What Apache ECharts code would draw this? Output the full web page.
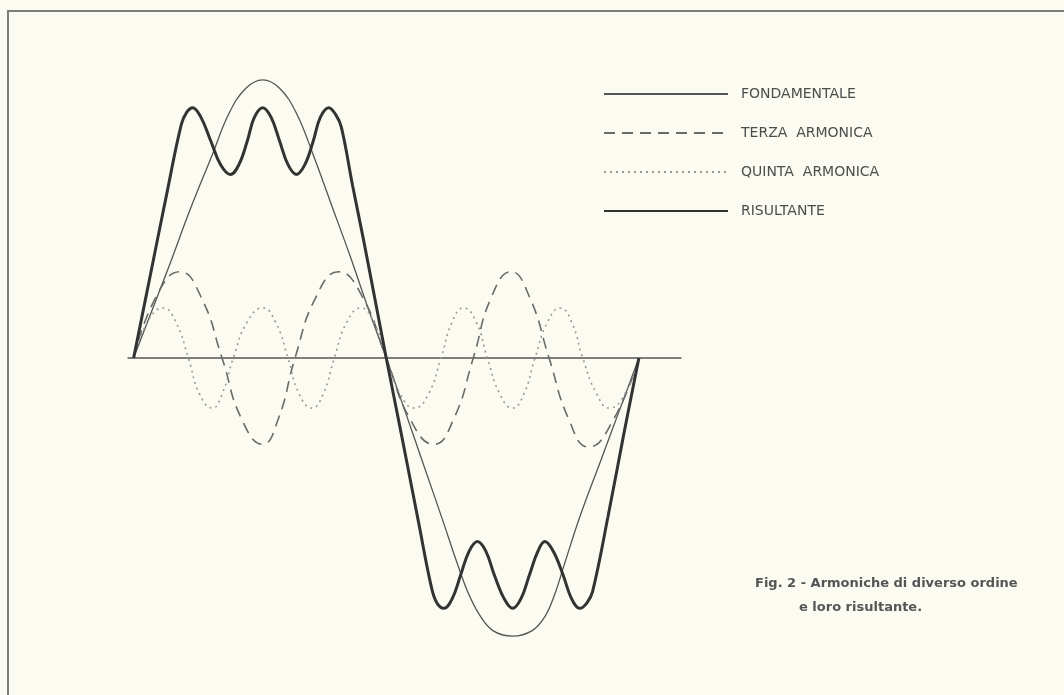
<!DOCTYPE html>
<html>
<head>
<meta charset="utf-8">
<script src="https://cdn.jsdelivr.net/npm/echarts@6/dist/echarts.min.js"></script>
<style>
  html, body { margin:0; padding:0; background:#fcfbf1; }
  #chart { width:1064px; height:695px; }
</style>
</head>
<body>
<div id="chart"></div>
<script>
// phase in degrees, amplitude in % of the fundamental peak
const fundX  = [0, 13, 26, 40, 56, 68, 80, 92, 104, 116, 128, 141, 154, 167, 180, 194, 207, 220, 230, 238, 246, 256, 270, 284, 293, 300, 307, 318, 332, 346, 360];
const fundY  = [0, 17, 34, 53, 73, 88, 97, 100, 97, 88, 73, 55, 37, 18, 0, -20, -39, -58, -73, -84, -92, -98, -100, -98, -93, -85, -74, -57, -38, -19, 0];

const thirdX = [0, 16, 33, 48, 63, 77, 92, 103, 115, 130, 146, 163, 180, 197, 214, 228, 242, 255, 269, 282, 296, 310, 324, 342, 360];
const thirdY = [0, 22, 31, 22, 0, -22, -31, -22, 0, 22, 31, 22, 0, -22, -31, -22, 0, 22, 31, 22, 0, -22, -32, -22, 0];

const fifthX = [0, 10, 21, 30, 39, 47, 56, 63, 71, 81, 92, 101, 110, 118, 127, 135, 143, 152, 162, 171, 180, 190, 200, 210, 219, 227, 235, 244, 252, 261, 270, 278, 286, 295, 304, 312, 320, 330, 339, 350, 360];
const fifthY = [0, 13, 18, 13, 0, -13, -18, -13, 0, 13, 18, 13, 0, -13, -18, -13, 0, 13, 18, 13, 0, -13, -18, -13, 0, 13, 18, 13, 0, -13, -18, -13, 0, 13, 18, 13, 0, -13, -18, -13, 0];

const resX   = [0, 12, 24, 34, 38, 42, 48, 55, 62, 69, 75, 81, 86, 92, 98, 104, 110, 116, 122, 128, 133, 139, 144, 148, 156, 164, 172, 180,
                191, 203, 212, 216, 221, 227, 233, 239, 245, 251, 257, 264, 270, 276, 282, 288, 293, 299, 306, 312, 318, 323, 327, 338, 349, 360];
const resY   = [0, 30, 60, 84, 88.5, 90, 86.5, 78, 69.5, 66, 69.5, 78, 86.5, 90, 86.5, 78, 69.5, 66, 69.5, 78, 86.5, 90, 87.5, 83, 62, 42, 21, 0,
                -28, -59, -82, -88, -90, -86.5, -78, -69.5, -66, -69.5, -78, -86.5, -90, -86.5, -78, -69.5, -66, -69.5, -78, -86.5, -90, -88, -84, -57, -28, 0];

const names = ['FONDAMENTALE', 'TERZA  ARMONICA', 'QUINTA  ARMONICA', 'RISULTANTE'];

const pairs = (xs, ys) => xs.map((x, i) => [x, ys[i]]);

const chart = echarts.init(document.getElementById('chart'));

chart.setOption({
    backgroundColor: '#fcfbf1',
    animation: false,
    grid: { left:128, right:383, top:52, bottom:31 },
    xAxis: {
        type:'value', min:-4, max:390,
        axisLine: { show:true, onZero:true, lineStyle:{ color:'#555', width:1.5 } },
        axisTick: { show:false }, axisLabel: { show:false }, splitLine: { show:false }
    },
    yAxis: { type:'value', min:-110, max:110, show:false },
    legend: {
        orient:'vertical', left:603, top:87, padding:0,
        itemWidth:124, itemHeight:14, itemGap:25,
        itemStyle: { opacity:0 },
        data: names,
        textStyle: { color:'#4d4d4d', fontSize:14, fontFamily:'DejaVu Sans', padding:[0,0,0,8] }
    },
    title: [
        { text:'Fig. 2 - Armoniche di diverso ordine', left:755, top:577, padding:0,
          textStyle:{ color:'#555', fontSize:13, fontWeight:'bold', fontFamily:'DejaVu Sans' } },
        { text:'e loro risultante.', left:799, top:601, padding:0,
          textStyle:{ color:'#555', fontSize:13, fontWeight:'bold', fontFamily:'DejaVu Sans' } }
    ],
    graphic: [
        { type:'polyline', silent:true,
          shape:{ points:[[8,695],[8,11],[1064,11]] },
          style:{ stroke:'#7d7d7d', lineWidth:2, fill:null } }
    ],
    series: [
        { name:names[0], type:'line', smooth:0.4, symbol:'none',
          lineStyle:{ color:'#555', width:1.3 }, itemStyle:{ color:'#555' },
          data: pairs(fundX, fundY) },
        { name:names[1], type:'line', smooth:0.5, symbol:'none',
          lineStyle:{ color:'#6a6a6a', width:1.6, type:[11,7] }, itemStyle:{ color:'#6a6a6a' },
          data: pairs(thirdX, thirdY) },
        { name:names[2], type:'line', smooth:0.5, symbol:'none',
          lineStyle:{ color:'#999', width:1.6, type:[2,4] }, itemStyle:{ color:'#999' },
          data: pairs(fifthX, fifthY) },
        { name:names[3], type:'line', smooth:0.4, symbol:'none',
          lineStyle:{ color:'#333', width:3 }, itemStyle:{ color:'#333' },
          data: pairs(resX, resY) }
    ]
});
</script>
</body>
</html>
